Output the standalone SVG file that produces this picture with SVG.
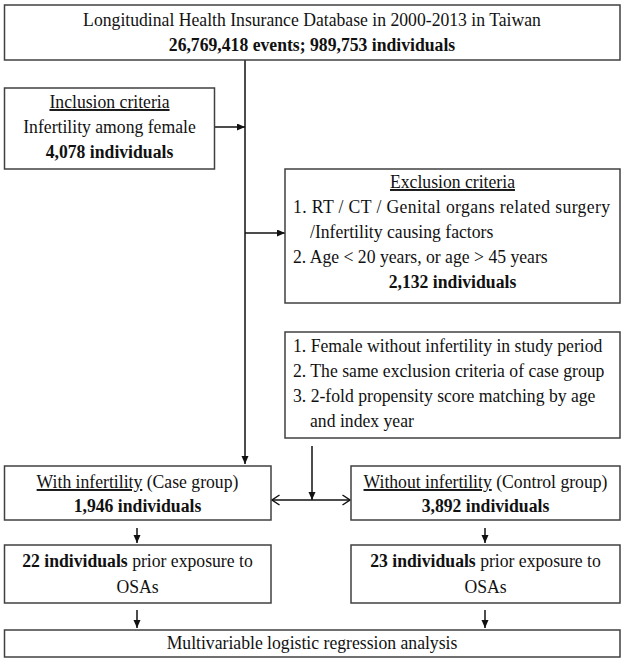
<svg xmlns="http://www.w3.org/2000/svg" width="625" height="664" viewBox="0 0 625 664">
<style>
.box{fill:#fff;stroke:#404040;stroke-width:1.5}
.t{font-family:"Liberation Serif","Times New Roman",serif;font-size:19px;fill:#111;transform-box:fill-box;transform-origin:left center;transform:scaleX(0.93)}
.c{text-anchor:middle;transform-origin:center}
.b{font-weight:bold}
.u{text-decoration:underline}
.ln{stroke:#111;stroke-width:1.5;fill:none}
</style>
<defs>
<marker id="ah" markerUnits="userSpaceOnUse" markerWidth="10" markerHeight="10" refX="8" refY="3.5" orient="auto">
<path d="M0,0 L8,3.5 L0,7 z" fill="#111"/>
</marker>
<marker id="oh" markerUnits="userSpaceOnUse" markerWidth="12" markerHeight="14" refX="8.5" refY="6" orient="auto-start-reverse">
<path d="M1,1 L8.5,6 L1,11" fill="none" stroke="#111" stroke-width="1.5"/>
</marker>
</defs>
<rect width="625" height="664" fill="#fff"/>
<g id="connectors">
<line class="ln" x1="245" y1="60" x2="245" y2="464" marker-end="url(#ah)"/>
<line class="ln" x1="215" y1="127" x2="245" y2="127" marker-end="url(#ah)"/>
<line class="ln" x1="245" y1="233" x2="285" y2="233" marker-end="url(#ah)"/>
<line class="ln" x1="312" y1="446" x2="312" y2="500" marker-end="url(#ah)"/>
<line class="ln" x1="272" y1="500" x2="350" y2="500" marker-start="url(#oh)" marker-end="url(#oh)"/>
<line class="ln" x1="137" y1="528" x2="137" y2="543" marker-end="url(#ah)"/>
<line class="ln" x1="485" y1="528" x2="485" y2="543" marker-end="url(#ah)"/>
<line class="ln" x1="137" y1="610" x2="137" y2="628" marker-end="url(#ah)"/>
<line class="ln" x1="485" y1="610" x2="485" y2="628" marker-end="url(#ah)"/>
</g>
<g id="database">
<rect class="box" x="4.5" y="5" width="615.5" height="55"/>
<text class="t c" x="312" y="26">Longitudinal Health Insurance Database in 2000-2013 in Taiwan</text>
<text class="t c b" x="312" y="51">26,769,418 events; 989,753 individuals</text>
</g>
<g id="inclusion">
<rect class="box" x="4.5" y="88" width="210" height="81"/>
<text class="t c u" x="109.5" y="108">Inclusion criteria</text>
<text class="t c" x="109.5" y="133">Infertility among female</text>
<text class="t c b" x="109.5" y="158">4,078 individuals</text>
</g>
<g id="exclusion">
<rect class="box" x="285" y="169" width="335" height="134"/>
<text class="t c u" x="452.5" y="188">Exclusion criteria</text>
<text class="t" x="293" y="213" textLength="341" lengthAdjust="spacing">1. RT / CT / Genital organs related surgery</text>
<text class="t" x="310" y="238">/Infertility causing factors</text>
<text class="t" x="293" y="263">2. Age &lt; 20 years, or age &gt; 45 years</text>
<text class="t c b" x="452.5" y="288">2,132 individuals</text>
</g>
<g id="control-criteria">
<rect class="box" x="285" y="332" width="335" height="106"/>
<text class="t" x="293" y="352">1. Female without infertility in study period</text>
<text class="t" x="293" y="377">2. The same exclusion criteria of case group</text>
<text class="t" x="293" y="402">3. 2-fold propensity score matching by age</text>
<text class="t" x="310" y="427">and index year</text>
</g>
<g id="case">
<rect class="box" x="4.5" y="466" width="266.5" height="54"/>
<text class="t c" x="137.5" y="488"><tspan class="u">With infertility</tspan> (Case group)</text>
<text class="t c b" x="137.5" y="512">1,946 individuals</text>
</g>
<g id="control">
<rect class="box" x="351" y="466" width="269" height="54"/>
<text class="t c" x="485.5" y="488"><tspan class="u">Without infertility</tspan> (Control group)</text>
<text class="t c b" x="485.5" y="512">3,892 individuals</text>
</g>
<g id="case-osa">
<rect class="box" x="4.5" y="545" width="266.5" height="58"/>
<text class="t c" x="137.5" y="567"><tspan class="b">22 individuals</tspan> prior exposure to</text>
<text class="t c" x="137.5" y="593">OSAs</text>
</g>
<g id="control-osa">
<rect class="box" x="351" y="545" width="269" height="58"/>
<text class="t c" x="485.5" y="567"><tspan class="b">23 individuals</tspan> prior exposure to</text>
<text class="t c" x="485.5" y="593">OSAs</text>
</g>
<g id="analysis">
<rect class="box" x="4.5" y="630" width="615.5" height="27"/>
<text class="t c" x="312" y="649">Multivariable logistic regression analysis</text>
</g>
</svg>
